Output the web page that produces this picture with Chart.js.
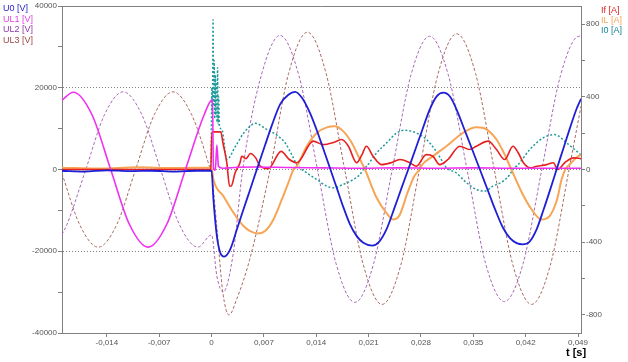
<!DOCTYPE html>
<html>
<head>
<meta charset="utf-8">
<script src="https://cdn.jsdelivr.net/npm/chart.js@4.4.1/dist/chart.umd.min.js"></script>
<style>
  html, body { margin: 0; padding: 0; background: #fff; }
  canvas { display: block; }
</style>
</head>
<body>
<canvas id="grafico" width="628" height="362"></canvas>
<script>
// Ticks de los ejes
const xTicks = [-0.014, -0.007, 0, 0.007, 0.014, 0.021, 0.028, 0.035, 0.042, 0.049];
const leftTicks = [-40000, -30000, -20000, -10000, 0, 10000, 20000, 30000, 40000];
const rightTicks = [-800, -600, -400, -200, 0, 200, 400, 600, 800];

// Tensiones [t (s), V]
const u0 = [[-0.02, -300], [-0.017, -500], [-0.014, -200], [-0.011, -400], [-0.008, -300], [-0.005, -500], [-0.002, -300], [0, -300],
  [0.00025, -7300], [0.00071, -16300], [0.00115, -20300], [0.00168, -21300], [0.00248, -19600], [0.00338, -14700], [0.00426, -9800], [0.00516, -4900], [0.00605, 0],
  [0.00716, 6000], [0.00806, 10800], [0.00918, 16000], [0.01027, 18300], [0.01117, 19000],
  [0.01206, 17600], [0.01317, 13800], [0.01407, 9600], [0.01495, 5000], [0.01584, 300], [0.01674, -4500], [0.01762, -9200], [0.01851, -13400], [0.01941, -16300], [0.02029, -17900], [0.02149, -18600],
  [0.0224, -17700], [0.0234, -14600], [0.0244, -9700], [0.02535, -4800], [0.0263, 0], [0.02725, 4900], [0.0282, 9800], [0.02915, 14600], [0.0301, 17900], [0.03098, 18800],
  [0.0319, 17800], [0.03285, 14300], [0.03385, 9600], [0.03485, 4900], [0.03588, 0], [0.0369, -4900], [0.0379, -9700], [0.0389, -14000], [0.0399, -16800], [0.0408, -18000], [0.04158, -18300],
  [0.0425, -17700], [0.04345, -14700], [0.0444, -9800], [0.0453, -4800], [0.04613, 0], [0.047, 4900], [0.0479, 10000], [0.0488, 14800], [0.0494, 17300]];

const ul1 = [[-0.02, 17000], [-0.01849, 18900], [-0.01599, 13400], [-0.01349, 0], [-0.01099, -13400], [-0.00849, -19000], [-0.00599, -13400], [-0.00349, 0], [-0.00099, 13400], [0.00012, 17100],
  [0.00025, 500], [0.0005, -200], [0.00071, 6000], [0.00092, 800], [0.0015, 300], [0.003, 500], [0.006, 600], [0.01, 500], [0.015, 400], [0.02, 300], [0.025, 400], [0.03, 300], [0.035, 400], [0.04, 300], [0.045, 300], [0.0494, 300]];

const ul2 = [[-0.02, -15900], [-0.01932, -13400], [-0.01682, 0], [-0.01432, 13400], [-0.01182, 19000], [-0.00932, 13400], [-0.00682, 0], [-0.00432, -13400], [-0.00182, -19000], [0, -16000],
  [0.0007, -26000], [0.00155, -30000], [0.0029, -20500], [0.00416, 0], [0.00666, 23100], [0.00916, 32800], [0.01166, 23100], [0.01416, 0], [0.01666, -23100], [0.01916, -32500],
  [0.02166, -23100], [0.02416, 0], [0.02666, 23100], [0.02916, 32600], [0.03166, 23100], [0.03416, 0], [0.03666, -23100], [0.03916, -32300], [0.04166, -23000], [0.04416, 0],
  [0.04666, 23000], [0.04916, 32600], [0.0494, 32600]];

const ul3 = [[-0.02, -1000], [-0.01766, -13400], [-0.01516, -19000], [-0.01266, -13400], [-0.01016, 0], [-0.00766, 13400], [-0.00516, 19000], [-0.00266, 13400], [-0.00016, 0], [0, -1000],
  [0.0007, -14000], [0.0015, -30000], [0.00235, -35600], [0.0033, -32000], [0.0051, -22000], [0.00783, 0], [0.0103, 23500], [0.01281, 33600], [0.0153, 23600], [0.0178, 0],
  [0.0203, -23400], [0.0228, -33000], [0.0253, -23400], [0.0278, 0], [0.0303, 23500], [0.03277, 33200], [0.0353, 23500], [0.0378, 0], [0.0403, -23400], [0.0428, -33000],
  [0.0453, -23400], [0.0478, 0], [0.0494, 15500]];

// Corrientes [t (s), A]
const iF = [[-0.02, 0], [-0.0001, 0], [0.00005, 207], [0.00124, 207], [0.0015, 150], [0.00204, 37], [0.00241, -92], [0.00265, -90], [0.00315, -18], [0.0038, 37], [0.00403, 73],
  [0.0046, 60], [0.0052, 88], [0.0059, 64], [0.0065, 18], [0.0076, 5], [0.0093, 100], [0.0104, 55], [0.0114, 37], [0.0136, 156], [0.0149, 137], [0.0164, 150], [0.0174, 165],
  [0.0183, 128], [0.0194, 37], [0.0201, 80], [0.0207, 128], [0.0216, 73], [0.0227, 27], [0.024, 37], [0.0252, 55], [0.0265, 37], [0.0274, 18], [0.0287, 82], [0.0296, 73],
  [0.0305, 27], [0.0316, 55], [0.0332, 128], [0.0345, 110], [0.0354, 128], [0.037, 156], [0.0381, 110], [0.0392, 55], [0.0403, 128], [0.041, 92], [0.0417, 37], [0.0426, 9],
  [0.0435, 18], [0.0448, 27], [0.0457, 37], [0.0463, 0], [0.0473, 40], [0.0484, 64], [0.0494, 60]];

const iL = [[-0.02, 10], [-0.015, 5], [-0.01, 12], [-0.005, 8], [0, 10], [0.00025, -55], [0.00159, -147], [0.00293, -238], [0.00426, -311], [0.00516, -339], [0.00627, -352],
  [0.00716, -339], [0.00827, -275], [0.0094, -165], [0.01027, -73], [0.01096, 0], [0.0114, 18], [0.01273, 128], [0.01407, 201], [0.0154, 232], [0.0165, 238], [0.01762, 210],
  [0.01874, 147], [0.01963, 73], [0.02052, 0], [0.022, -150], [0.0234, -240], [0.0243, -275], [0.0251, -255], [0.0262, -128], [0.0271, -37], [0.0278, 0], [0.028, 18],
  [0.0296, 73], [0.0314, 128], [0.0336, 201], [0.0354, 232], [0.0368, 220], [0.0381, 165], [0.0392, 82], [0.0399, 18], [0.0415, -128], [0.0428, -220], [0.0441, -275],
  [0.0452, -256], [0.0462, -165], [0.0468, -55], [0.0473, 0], [0.0481, 37], [0.049, 73], [0.0494, 80]];

const i0 = [[-0.02, 0], [-0.0001, 0], [0.00005, 450], [0.00012, 300], [0.0002, 824], [0.00027, 350], [0.00035, 600], [0.00042, 280], [0.0005, 520], [0.00057, 300],
  [0.00065, 480], [0.00072, 260], [0.0008, 560], [0.00088, 250], [0.00095, 400], [0.00105, 240], [0.00138, 220], [0.00204, 55], [0.0032, 128], [0.0043, 201], [0.0054, 247],
  [0.0058, 255], [0.0074, 220], [0.00894, 183], [0.00983, 147], [0.01072, 82], [0.0114, 27], [0.0127, -18], [0.01406, -55], [0.0154, -92], [0.01628, -101], [0.0176, -82],
  [0.01896, -55], [0.01985, -27], [0.0203, 0], [0.02074, 18], [0.02208, 92], [0.02342, 147], [0.02475, 201], [0.02585, 216], [0.02741, 201], [0.02875, 165], [0.02986, 110],
  [0.03098, 37], [0.03142, 9], [0.0327, -18], [0.0341, -73], [0.0354, -110], [0.0365, -119], [0.0376, -92], [0.039, -64], [0.0399, -27], [0.0403, 0], [0.041, 27],
  [0.04256, 110], [0.04434, 174], [0.0459, 192], [0.04746, 147], [0.0488, 101], [0.0494, 80]];

const toXY = arr => arr.map(p => ({ x: p[0], y: p[1] }));
const tickFont = { family: '"Liberation Sans", Arial, sans-serif', size: 8 };
const gris = '#808080';

function serie(label, data, color, axis, width, dash, orden, textColor) {
  return {
    label: label,
    data: toXY(data),
    borderColor: color,
    backgroundColor: color,
    borderWidth: width,
    borderDash: dash,
    yAxisID: axis,
    pointRadius: 0,
    cubicInterpolationMode: 'monotone',
    fill: false,
    order: orden,
    textColor: textColor
  };
}

// Leyendas y título del eje t
const textos = {
  id: 'textos',
  afterDraw(chart) {
    const ctx = chart.ctx;
    const area = chart.chartArea;
    ctx.save();
    // borde superior
    ctx.strokeStyle = gris;
    ctx.lineWidth = 1;
    ctx.beginPath();
    ctx.moveTo(area.left, area.top + 0.5);
    ctx.lineTo(area.right, area.top + 0.5);
    ctx.stroke();

    ctx.font = '9px "Liberation Sans", Arial, sans-serif';
    ctx.textBaseline = 'middle';
    ctx.textAlign = 'left';
    let li = 0, ri = 0;
    chart.data.datasets.forEach(ds => {
      ctx.fillStyle = ds.textColor;
      if (ds.yAxisID === 'y') {
        ctx.fillText(ds.label, 3, 9 + li * 10.4);
        li++;
      } else {
        ctx.fillText(ds.label, 601, 10.5 + ri * 10);
        ri++;
      }
    });

    ctx.fillStyle = '#000';
    ctx.font = 'bold 11px "Liberation Sans", Arial, sans-serif';
    ctx.textAlign = 'center';
    ctx.fillText('t [s]', 576, 353);
    ctx.restore();
  }
};

const ctx = document.getElementById('grafico').getContext('2d');

new Chart(ctx, {
  type: 'line',
  data: {
    datasets: [
      serie('U0 [V]', u0, '#1f1fd6', 'y', 1.8, [], 0, '#2424c8'),
      serie('UL1 [V]', ul1, '#f030f0', 'y', 1.6, [], 1, '#e040e0'),
      serie('UL2 [V]', ul2, '#a868b8', 'y', 1, [3, 2], 5, '#8a3aa8'),
      serie('UL3 [V]', ul3, '#a86a62', 'y', 1, [3, 2], 6, '#9a4848'),
      serie('If [A]', iF, '#e62020', 'y1', 1.6, [], 2, '#e02020'),
      serie('IL [A]', iL, '#f7a555', 'y1', 2, [], 3, '#f2a55c'),
      serie('I0 [A]', i0, '#209a9a', 'y1', 1.5, [2, 2], 4, '#15859a')
    ]
  },
  options: {
    responsive: false,
    devicePixelRatio: 1,
    animation: false,
    layout: { padding: { top: 6, left: 0, right: 0, bottom: 0 } },
    plugins: { legend: { display: false }, tooltip: { enabled: false } },
    scales: {
      x: {
        type: 'linear',
        min: -0.02,
        max: 0.0494,
        afterBuildTicks: s => { s.ticks = xTicks.map(v => ({ value: v })); },
        afterFit: s => { s.height = 29; },
        ticks: {
          autoSkip: false,
          maxRotation: 0,
          padding: 1,
          font: tickFont,
          color: '#555',
          callback: v => v === 0 ? '0' : v.toFixed(3).replace('.', ',')
        },
        grid: { drawOnChartArea: false, tickLength: 4, tickColor: gris },
        border: { color: gris }
      },
      y: {
        position: 'left',
        min: -40000,
        max: 40000,
        afterBuildTicks: s => { s.ticks = leftTicks.map(v => ({ value: v })); },
        afterFit: s => { s.width = 62; },
        ticks: {
          autoSkip: false,
          padding: 1,
          font: tickFont,
          color: '#555',
          callback: v => (v % 20000 === 0 ? String(v) : '')
        },
        grid: {
          tickLength: 4,
          tickColor: gris,
          color: c => (c.tick && Math.abs(c.tick.value) !== 40000 && c.tick.value % 20000 === 0) ? gris : 'rgba(0,0,0,0)'
        },
        border: { color: gris, dash: [1, 2] }
      },
      y1: {
        position: 'right',
        min: -900,
        max: 900,
        afterBuildTicks: s => { s.ticks = rightTicks.map(v => ({ value: v })); },
        afterFit: s => { s.width = 47; },
        ticks: {
          autoSkip: false,
          padding: 1,
          font: tickFont,
          color: '#555',
          callback: v => (v % 400 === 0 ? String(v) : '')
        },
        grid: { drawOnChartArea: false, tickLength: 4, tickColor: gris },
        border: { color: gris }
      }
    }
  },
  plugins: [textos]
});
</script>
</body>
</html>
